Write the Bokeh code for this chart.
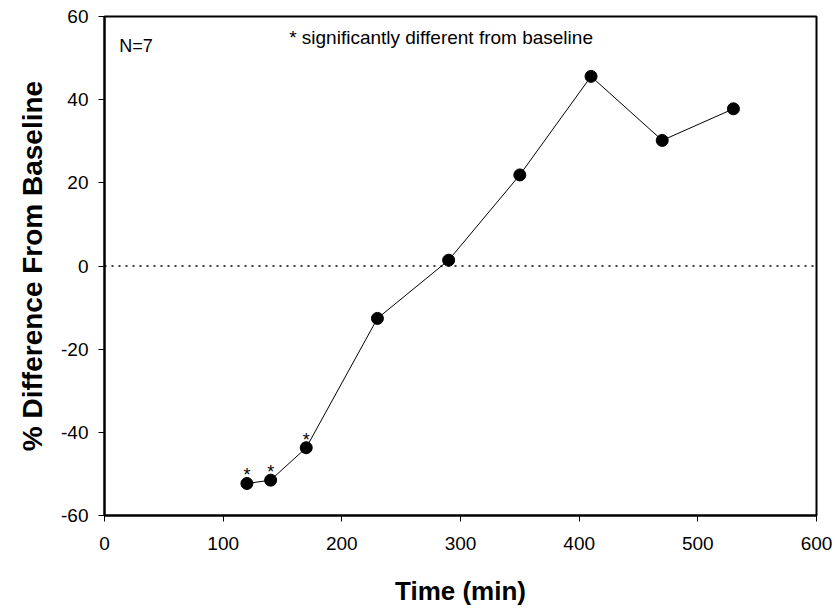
from bokeh.plotting import figure
from bokeh.models import Range1d, Span, Label, FixedTicker, ColumnDataSource, CustomJSTickFormatter
from bokeh.core.properties import value
from bokeh.embed import file_html
from bokeh.resources import INLINE

# Data
time_min = [120, 140, 170, 230, 290, 350, 410, 470, 530]
pct_diff = [-52.3, -51.5, -43.7, -12.6, 1.4, 21.9, 45.6, 30.2, 37.8]
significant = ["*", "*", "*", "", "", "", "", "", ""]
x_ticks = [0, 100, 200, 300, 400, 500, 600]
y_ticks = [-60, -40, -20, 0, 20, 40, 60]

FONT = "Liberation Sans"

p = figure(width=835, height=608, output_backend="svg", toolbar_location=None,
           x_range=Range1d(0, 600), y_range=Range1d(-60, 60),
           min_border_left=104, min_border_right=19, min_border_top=16, min_border_bottom=89)
p.background_fill_color = "white"
p.border_fill_color = "white"
p.outline_line_color = "black"
p.outline_line_width = 2
p.xgrid.visible = False
p.ygrid.visible = False

for ax, ticks in ((p.xaxis[0], x_ticks), (p.yaxis[0], y_ticks)):
    ax.ticker = FixedTicker(ticks=ticks)
    ax.formatter = CustomJSTickFormatter(code="return String(tick);")
    ax.axis_line_width = 2
    ax.axis_line_color = "black"
    ax.major_tick_in = 0
    ax.major_tick_out = 6
    ax.major_tick_line_width = 1
    ax.minor_tick_line_color = None
    ax.major_label_text_font = FONT
    ax.major_label_text_font_size = "19px"
    ax.major_label_text_color = "black"
    ax.axis_label_text_font = FONT
    ax.axis_label_text_font_style = "bold"
    ax.axis_label_text_color = "black"

p.xaxis.axis_label = "Time (min)"
p.yaxis.axis_label = "% Difference From Baseline"
p.xaxis.axis_label_text_font_size = "26px"
p.yaxis.axis_label_text_font_size = "28px"
p.xaxis.major_label_standoff = 15
p.yaxis.major_label_standoff = 10
p.xaxis.axis_label_standoff = 23
p.yaxis.axis_label_standoff = 10

# zero reference line
p.add_layout(Span(location=0, dimension="width", line_color="black",
                  line_width=1.5, line_dash="2 5"))

src = ColumnDataSource(dict(x=time_min, y=pct_diff, s=significant))
p.line("x", "y", source=src, line_color="black", line_width=1)
p.scatter("x", "y", source=src, size=12, fill_color="black", line_color="black")
p.text("x", "y", text="s", source=src, text_font=value(FONT), text_font_size="18px",
       text_align="center", text_baseline="middle", y_offset=-8, text_color="black")

p.add_layout(Label(x=12.4, y=52.9, text="N=7", text_font=FONT, text_font_size="18px",
                   text_baseline="alphabetic", text_align="left", text_color="black"))
p.add_layout(Label(x=155.6, y=54.9, text="* significantly different from baseline",
                   text_font=FONT, text_font_size="19px",
                   text_baseline="alphabetic", text_align="left", text_color="black"))

open("out.html", "w").write(file_html(p, INLINE))
